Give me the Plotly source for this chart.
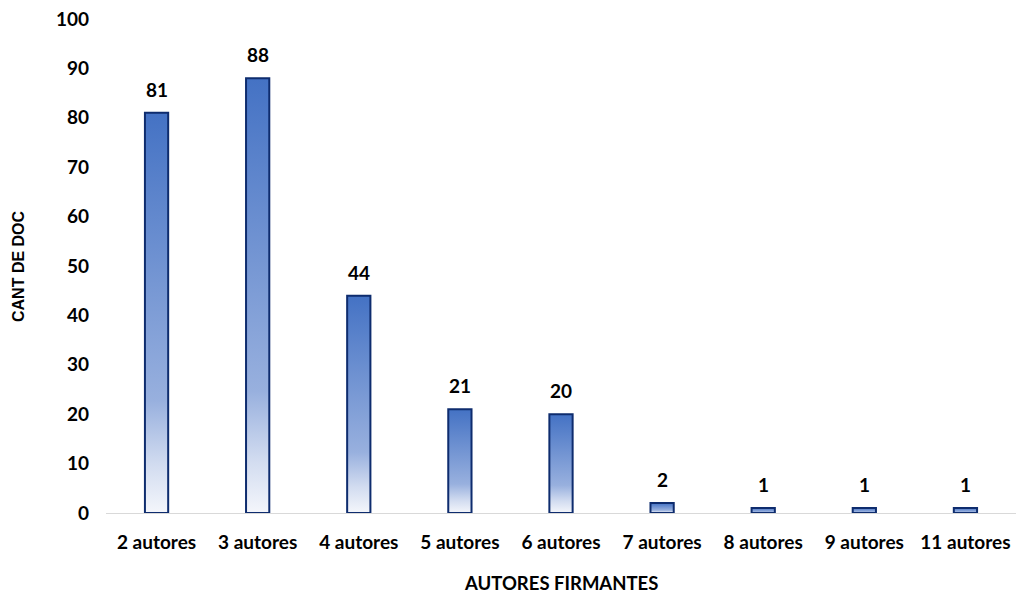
import plotly.graph_objects as go

categories = ["2 autores", "3 autores", "4 autores", "5 autores", "6 autores",
              "7 autores", "8 autores", "9 autores", "11 autores"]
values = [81, 88, 44, 21, 20, 2, 1, 1, 1]
y_ticks = [0, 10, 20, 30, 40, 50, 60, 70, 80, 90, 100]
x_title = "AUTORES FIRMANTES"
y_title = "CANT DE DOC"

BAR_W = 0.23
FONT = "Lato"
gradient = [[0, "#F4F6FB"], [0.12, "#D2DCF0"], [0.28, "#98B0DE"], [1, "#4472C4"]]

fig = go.Figure()
for i, (cat, v) in enumerate(zip(categories, values)):
    x0, x1 = i - BAR_W / 2, i + BAR_W / 2
    fig.add_trace(go.Scatter(
        x=[x0, x1, x1, x0, x0], y=[0, 0, v, v, 0],
        mode="lines", fill="toself",
        fillgradient=dict(type="vertical", colorscale=gradient, start=0, stop=v),
        line=dict(color="#0E2C6E", width=2),
        hoverinfo="text", text=f"{cat}: {v}", showlegend=False,
    ))
    fig.add_annotation(x=i, y=v, text=f"<b>{v}</b>", showarrow=False,
                       xanchor="center", yanchor="bottom", yshift=10,
                       font=dict(family=FONT, size=19, color="#000000"))

fig.add_annotation(xref="paper", yref="paper", x=0.5, y=0, yshift=-70,
                   xanchor="center", yanchor="middle",
                   text=f"<b>{x_title}</b>", showarrow=False,
                   font=dict(family=FONT, size=18.5, color="#000000"))
fig.add_annotation(xref="paper", yref="paper", x=0, y=0.5, xshift=-88,
                   xanchor="center", yanchor="middle",
                   text=f"<b>{y_title}</b>", showarrow=False, textangle=-90,
                   font=dict(family="Liberation Sans", size=16, color="#000000"))

fig.update_layout(
    width=1016, height=596,
    margin=dict(l=106, r=0, t=19, b=83),
    paper_bgcolor="white", plot_bgcolor="white",
    font=dict(family=FONT, size=19, color="#000000"),
    xaxis=dict(range=[-0.5, len(categories) - 0.5],
               tickvals=list(range(len(categories))),
               ticktext=[f"<b>{c}</b>" for c in categories],
               tickfont=dict(size=19),
               showgrid=False, zeroline=False, showline=True,
               linecolor="#D9D9D9", linewidth=1,
               ticks="", ticklabelstandoff=12, fixedrange=True),
    yaxis=dict(range=[0, 100], tickvals=y_ticks,
               ticktext=[f"<b>{t}</b>" for t in y_ticks],
               tickfont=dict(size=19),
               showgrid=False, zeroline=False, showline=False,
               ticks="", ticklabelstandoff=16, fixedrange=True),
)

fig.write_html("out.html")
